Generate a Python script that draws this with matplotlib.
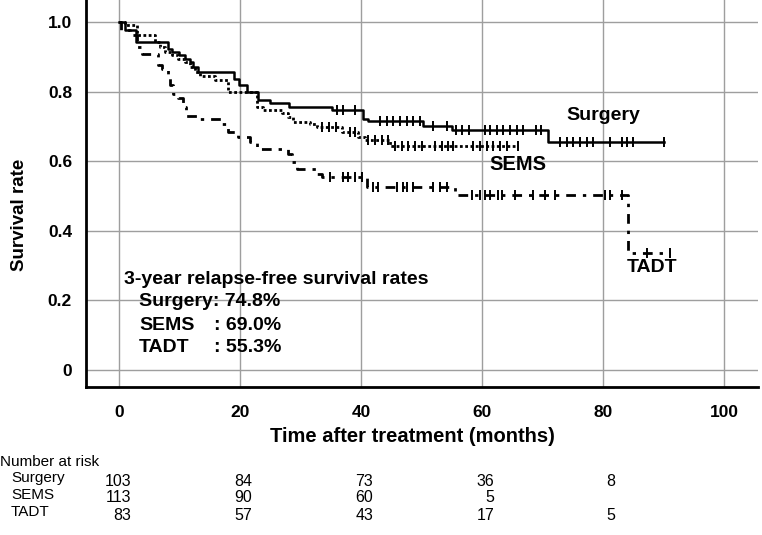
import numpy as np
import matplotlib
matplotlib.use("Agg")
import matplotlib.pyplot as plt

plt.rcParams['font.family'] = ['Liberation Sans', 'DejaVu Sans']

W, H = 762, 535

# ---- data ----
surg_t = [0, 0.9, 2.7, 8.1, 8.7, 9.9, 10.9, 11.7, 12.2, 13.0, 19.0, 19.8, 21.1, 23.0,
          24.9, 28.0, 35.1, 40.3, 41.1, 50.2, 55.0, 70.9, 90.0]
surg_s = [1.0, 0.976, 0.942, 0.923, 0.913, 0.904, 0.894, 0.885, 0.870, 0.856, 0.837,
          0.818, 0.799, 0.777, 0.767, 0.756, 0.748, 0.722, 0.714, 0.700, 0.689, 0.655, 0.655]
surg_c = [36.0, 37.0, 38.9, 43.1, 44.2, 45.3, 46.4, 47.6, 48.6, 49.7, 51.8, 54.2, 55.7,
          56.7, 57.8, 60.5, 61.3, 62.4, 63.5, 64.6, 65.7, 66.8, 68.9, 69.7, 72.8, 74.0,
          75.0, 76.2, 77.3, 78.3, 81.1, 83.1, 83.9, 84.9, 90.0]

sems_t = [0, 1.0, 2.9, 5.9, 6.7, 7.5, 8.7, 9.7, 10.9, 11.7, 12.5, 13.4, 15.9, 18.0,
          22.8, 23.7, 26.9, 27.9, 28.7, 31.5, 32.7, 36.8, 39.5, 40.6, 44.8, 66.0]
sems_s = [1.0, 0.991, 0.962, 0.942, 0.928, 0.913, 0.904, 0.894, 0.885, 0.870, 0.856,
          0.846, 0.832, 0.799, 0.756, 0.746, 0.737, 0.727, 0.712, 0.708, 0.698, 0.684,
          0.669, 0.660, 0.644, 0.644]
sems_c = [33.5, 34.7, 35.8, 38.1, 38.9, 41.1, 42.3, 43.4, 44.4, 45.6, 46.7, 47.7, 48.9,
          50.1, 52.2, 53.3, 54.3, 55.2, 58.5, 59.6, 60.8, 61.8, 62.9, 64.1, 66.0]

tadt_t = [0, 0.3, 1.8, 2.9, 3.8, 6.4, 7.1, 8.0, 8.4, 8.9, 9.7, 10.5, 11.0, 13.3, 17.0,
          18.0, 19.6, 21.6, 22.8, 27.9, 28.5, 29.4, 32.7, 33.5, 41.0, 55.5, 84.1, 91.0]
tadt_s = [1.0, 0.976, 0.961, 0.928, 0.909, 0.875, 0.866, 0.846, 0.818, 0.794, 0.780,
          0.756, 0.729, 0.722, 0.708, 0.684, 0.669, 0.655, 0.636, 0.620, 0.598, 0.576,
          0.564, 0.553, 0.526, 0.502, 0.335, 0.335]
tadt_c = [34.8, 37.0, 37.8, 39.0, 40.1, 42.0, 42.8, 45.9, 46.9, 47.5, 48.6, 51.9, 53.0,
          54.2, 58.3, 59.6, 60.4, 61.3, 62.6, 63.3, 65.4, 68.4, 70.4, 72.0, 80.3, 81.1,
          83.1, 87.2, 91.0]

groups = ["Surgery", "SEMS", "TADT"]
risk_times = [0, 20, 40, 60, 80]
risk_surg = ["103", "84", "73", "36", "8"]
risk_sems = ["113", "90", "60", "5", ""]
risk_tadt = ["83", "57", "43", "17", "5"]
rates = ["74.8%", "69.0%", "55.3%"]

xticks = [0, 20, 40, 60, 80, 100]
yticks = [0, 0.2, 0.4, 0.6, 0.8, 1.0]
yticklabels = ["0", "0.2", "0.4", "0.6", "0.8", "1.0"]

# ---- figure ----
fig = plt.figure(figsize=(W / 100, H / 100), dpi=100)
ax = fig.add_axes([86 / W, 1 - 387 / H, (758 - 86) / W, 387 / H])
ax.set_xlim(-5.5, 105.6)
ax.set_ylim(-0.049, 1.063)

for v in xticks:
    ax.axvline(v, color='#9e9e9e', lw=1.0, zorder=0)
for v in yticks:
    ax.axhline(v, color='#9e9e9e', lw=1.0, zorder=0)

styles = [
    dict(ls='-', lw=1.8),
    dict(ls=(0, (1.0, 0.9)), lw=2.0),
    dict(ls=(0, (3.5, 2.5, 1.2, 2.5)), lw=2.0),
]
data = [(surg_t, surg_s, surg_c), (sems_t, sems_s, sems_c), (tadt_t, tadt_s, tadt_c)]
for (t, s, c), st in zip(data, styles):
    t = np.asarray(t); s = np.asarray(s)
    ax.step(t, s, where='post', color='black', **st)
    c = np.asarray(c)
    idx = np.searchsorted(t, c, side='right') - 1
    ax.plot(c, s[idx], ls='none', marker='|', ms=7, mew=1.4, color='black')

for sp in ['top', 'right']:
    ax.spines[sp].set_visible(False)
for sp in ['left', 'bottom']:
    ax.spines[sp].set_linewidth(2.0)
    ax.spines[sp].set_color('black')

ax.set_xticks(xticks)
ax.set_xticklabels([str(v) for v in xticks], fontsize=12.5, fontweight='bold')
ax.set_yticks(yticks)
ax.set_yticklabels(yticklabels, fontsize=12.5, fontweight='bold')
ax.tick_params(axis='both', length=0)
ax.tick_params(axis='y', pad=10)
ax.tick_params(axis='x', pad=13)

def ftext(px, py, s, **kw):
    fig.text(px / W, 1 - py / H, s, **kw)

ftext(20, 215, "Survival rate", rotation=90, fontsize=13.5, fontweight='bold',
      ha='center', va='center')
ftext(412, 437, "Time after treatment (months)", fontsize=14.5, fontweight='bold',
      ha='center', va='center')

# curve labels
ftext(603, 116, "Surgery", fontsize=14, fontweight='bold', ha='center', va='center')
ftext(518, 164, "SEMS", fontsize=14.5, fontweight='bold', ha='center', va='center')
ftext(652, 267, "TADT", fontsize=14, fontweight='bold', ha='center', va='center')

# rates block
fs = 14
ftext(124, 279, "3-year relapse-free survival rates", fontsize=fs, fontweight='bold',
      ha='left', va='center')
ftext(139, 302, f"Surgery: {rates[0]}", fontsize=fs, fontweight='bold', ha='left', va='center')
ftext(139, 325, "SEMS", fontsize=fs, fontweight='bold', ha='left', va='center')
ftext(214, 325, f": {rates[1]}", fontsize=fs, fontweight='bold', ha='left', va='center')
ftext(139, 348, "TADT", fontsize=fs, fontweight='bold', ha='left', va='center')
ftext(214, 348, f": {rates[2]}", fontsize=fs, fontweight='bold', ha='left', va='center')

# number at risk table
ftext(0, 462, "Number at risk", fontsize=11, ha='left', va='center')
row_y = [481, 498, 515]
rows = [risk_surg, risk_sems, risk_tadt]
for g, yy, vals in zip(groups, row_y, rows):
    ftext(11, yy - 3, g, fontsize=11, ha='left', va='center')
    for tm, v in zip(risk_times, vals):
        px = 119.3 + 6.05 * tm
        ftext(px + 12, yy, v, fontsize=11.5, ha='right', va='center')

fig.savefig("out.png", dpi=100)
